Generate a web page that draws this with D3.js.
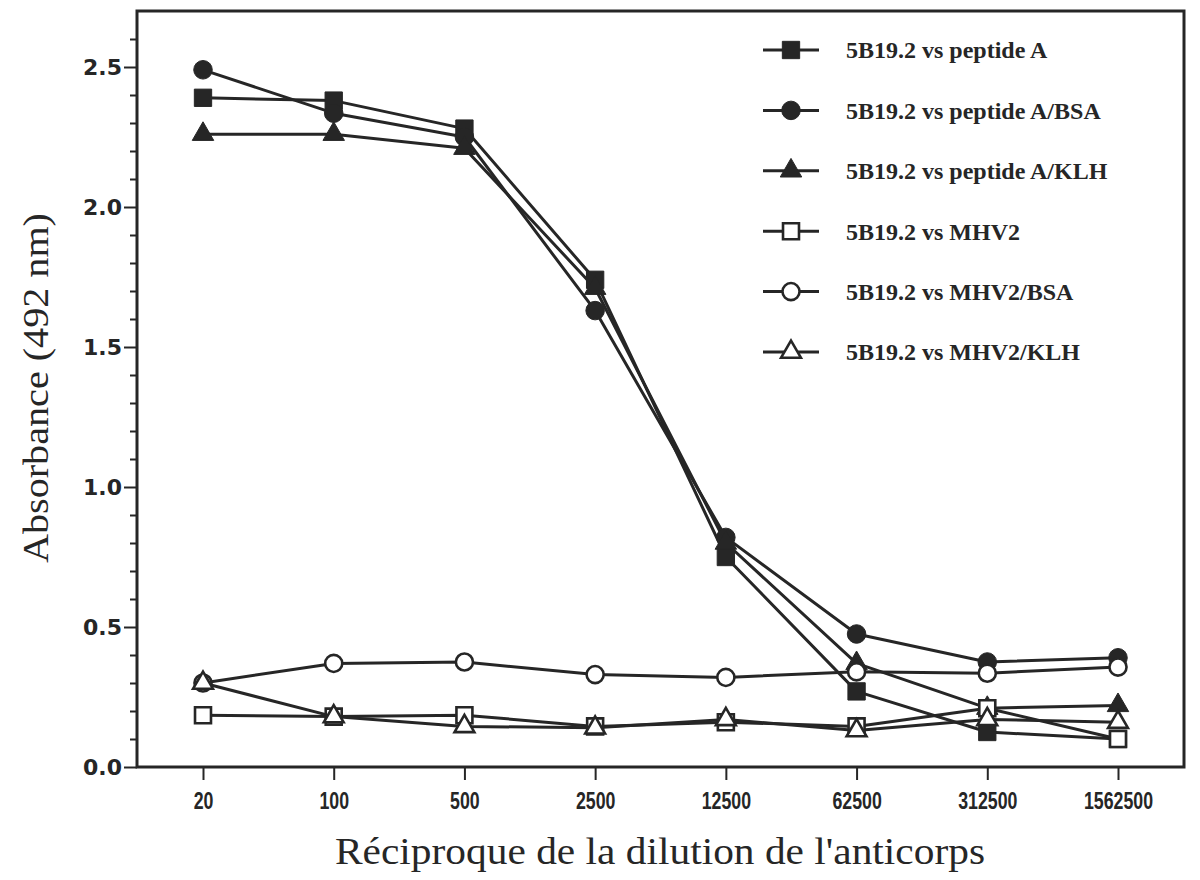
<!DOCTYPE html>
<html><head><meta charset="utf-8">
<script src="https://cdn.jsdelivr.net/npm/d3@7"></script>
<style>body{margin:0;background:#fff}svg{display:block}</style>
</head><body>
<svg id="c" width="1200" height="880"></svg>
<script>
const dilutions = ["20","100","500","2500","12500","62500","312500","1562500"];
const peptideA     = [2.39, 2.38, 2.28, 1.74, 0.75, 0.27, 0.125, 0.10];
const peptideA_BSA = [2.49, 2.335, 2.25, 1.63, 0.82, 0.475, 0.375, 0.39];
const peptideA_KLH = [2.26, 2.26, 2.21, 1.71, 0.80, 0.37, 0.21, 0.22];
const mhv2         = [0.185, 0.18, 0.185, 0.145, 0.16, 0.145, 0.21, 0.10];
const mhv2_BSA     = [0.30, 0.37, 0.375, 0.33, 0.32, 0.34, 0.335, 0.357];
const mhv2_KLH     = [0.30, 0.18, 0.145, 0.14, 0.17, 0.13, 0.17, 0.16];
const seriesNames = ["5B19.2 vs peptide A","5B19.2 vs peptide A/BSA","5B19.2 vs peptide A/KLH",
                     "5B19.2 vs MHV2","5B19.2 vs MHV2/BSA","5B19.2 vs MHV2/KLH"];
const yTicks = [0, 0.5, 1.0, 1.5, 2.0, 2.5];

const series = [
  {name: seriesNames[0], values: peptideA,     shape: "square",   filled: true},
  {name: seriesNames[1], values: peptideA_BSA, shape: "circle",   filled: true},
  {name: seriesNames[2], values: peptideA_KLH, shape: "triangle", filled: true},
  {name: seriesNames[3], values: mhv2,         shape: "square",   filled: false},
  {name: seriesNames[4], values: mhv2_BSA,     shape: "circle",   filled: false},
  {name: seriesNames[5], values: mhv2_KLH,     shape: "triangle", filled: false}
];

const ink = "#262626";
const L = 137, R = 1184, T = 11, B = 767;
const svg = d3.select("#c");
const x = d3.scalePoint().domain(dilutions).range([203, 1118]);
const y = d3.scaleLinear().domain([0, 2.7]).range([B, T]);

// frame
svg.append("rect").attr("x", L).attr("y", T).attr("width", R - L).attr("height", B - T)
  .attr("fill", "none").attr("stroke", ink).attr("stroke-width", 3);

// y axis
const yAxis = d3.axisLeft(y).tickValues(yTicks).tickFormat(d3.format(".1f")).tickSize(13).tickPadding(2);
const gy = svg.append("g").attr("transform", `translate(${L},0)`).call(yAxis);
gy.select(".domain").remove();
gy.selectAll(".tick line").attr("stroke", ink).attr("stroke-width", 2);
gy.selectAll(".tick text").attr("font-family", "DejaVu Sans, sans-serif").attr("font-weight", "bold")
  .attr("font-size", 22).attr("fill", ink);
const minor = d3.range(0, 27).map(i => i / 10).filter(v => Math.round(v * 10) % 5 !== 0);
const yMinor = d3.axisLeft(y).tickValues(minor).tickSize(7).tickFormat("");
const gym = svg.append("g").attr("transform", `translate(${L},0)`).call(yMinor);
gym.select(".domain").remove();
gym.selectAll(".tick line").attr("stroke", ink).attr("stroke-width", 2);

// x axis
const xAxis = d3.axisBottom(x).tickSize(13);
const gx = svg.append("g").attr("transform", `translate(0,${B})`).call(xAxis);
gx.select(".domain").remove();
gx.selectAll(".tick line").attr("stroke", ink).attr("stroke-width", 2);
gx.selectAll(".tick text").attr("font-family", "Liberation Sans, Arial, sans-serif").attr("font-weight", "bold")
  .attr("font-size", 24).attr("fill", ink).attr("dy", null).attr("y", 42)
  .attr("transform", "scale(0.74,1)");

// titles
svg.append("text").attr("x", 660).attr("y", 864).attr("text-anchor", "middle")
  .attr("font-family", "Liberation Serif, serif").attr("font-size", 38).attr("fill", ink)
  .attr("textLength", 650).attr("lengthAdjust", "spacingAndGlyphs")
  .text("Réciproque de la dilution de l'anticorps");
svg.append("text").attr("transform", "translate(48,388) rotate(-90)").attr("text-anchor", "middle")
  .attr("font-family", "Liberation Serif, serif").attr("font-size", 36).attr("fill", ink)
  .attr("textLength", 350).attr("lengthAdjust", "spacingAndGlyphs")
  .text("Absorbance (492 nm)");

// markers
const symType = {square: d3.symbolSquare, circle: d3.symbolCircle, triangle: d3.symbolTriangle};
const symSize = {square: 300, circle: 270, triangle: 200};
function drawMarker(g, s, cx, cy) {
  g.append("path").attr("d", d3.symbol().type(symType[s.shape]).size(s.filled ? symSize[s.shape] : symSize[s.shape] * 0.85)())
    .attr("transform", `translate(${cx},${cy})`)
    .attr("fill", s.filled ? ink : "#fff")
    .attr("stroke", ink).attr("stroke-width", s.filled ? 1 : 2.6);
}

const line = d3.line().x((d, i) => x(dilutions[i])).y(d => y(d));
const gl = svg.append("g");
series.forEach(s => {
  gl.append("path").attr("d", line(s.values)).attr("fill", "none")
    .attr("stroke", ink).attr("stroke-width", 3).attr("stroke-linejoin", "round");
});
const gm = svg.append("g");
series.forEach(s => {
  s.values.forEach((v, i) => drawMarker(gm, s, x(dilutions[i]), y(v)));
});

// legend
const legY = d3.scalePoint().domain(seriesNames).range([50, 352]);
const lg = svg.append("g");
series.forEach(s => {
  const cy = legY(s.name);
  lg.append("line").attr("x1", 763).attr("x2", 819).attr("y1", cy).attr("y2", cy)
    .attr("stroke", ink).attr("stroke-width", 3);
  drawMarker(lg, s, 791, cy);
  lg.append("text").attr("x", 846).attr("y", cy).attr("dy", "0.35em")
    .attr("font-family", "Liberation Serif, serif").attr("font-weight", "bold")
    .attr("font-size", 24).attr("fill", ink).text(s.name);
});
</script>
</body></html>
